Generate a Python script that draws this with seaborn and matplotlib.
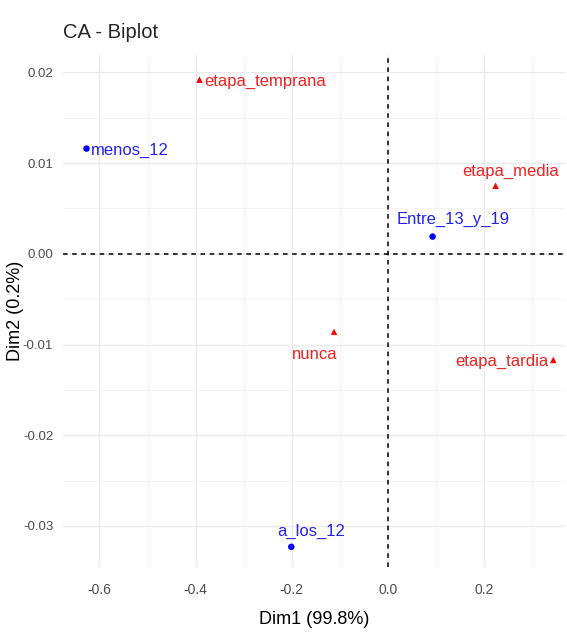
import matplotlib.pyplot as plt
import pandas as pd
import seaborn as sns
from matplotlib.ticker import MultipleLocator, FixedLocator

# CA coordinates
row_names = ["menos_12", "Entre_13_y_19", "a_los_12"]
row_dim1 = [-0.627, 0.093, -0.201]
row_dim2 = [0.0116, 0.0019, -0.0323]

col_names = ["etapa_temprana", "etapa_media", "nunca", "etapa_tardia"]
col_dim1 = [-0.392, 0.224, -0.112, 0.344]
col_dim2 = [0.0192, 0.0075, -0.0086, -0.0117]

x_ticks = [-0.6, -0.4, -0.2, 0.0, 0.2]
y_ticks = [-0.03, -0.02, -0.01, 0.00, 0.01, 0.02]

df = pd.DataFrame({
    "name": row_names + col_names,
    "dim1": row_dim1 + col_dim1,
    "dim2": row_dim2 + col_dim2,
    "kind": ["row"] * len(row_names) + ["col"] * len(col_names),
})

# label offsets in pixels (ggrepel style placement)
offsets = {
    "menos_12": (4, -2, "left", "center"),
    "Entre_13_y_19": (21, 10, "center", "bottom"),
    "a_los_12": (20, 8, "center", "bottom"),
    "etapa_temprana": (5, -2, "left", "center"),
    "etapa_media": (15, 7, "center", "bottom"),
    "nunca": (-19, -15, "center", "top"),
    "etapa_tardia": (-5, -1, "right", "center"),
}

sns.set_style("white")
plt.rcParams["font.family"] = ["Liberation Sans", "DejaVu Sans"]

fig = plt.figure(figsize=(5.67, 6.34), dpi=100)
ax = fig.add_axes([0.111, 0.106, 0.886, 0.807])

sns.scatterplot(data=df, x="dim1", y="dim2", hue="kind", style="kind",
                palette={"row": "#0000FF", "col": "#FF0000"},
                markers={"row": "o", "col": "^"}, s=22, linewidth=0,
                legend=False, ax=ax, zorder=3)

text_col = {"row": "#2222EE", "col": "#EE2222"}
for _, r in df.iterrows():
    dx, dy, ha, va = offsets[r["name"]]
    ax.annotate(r["name"], (r["dim1"], r["dim2"]), xytext=(dx, dy),
                textcoords="offset pixels", ha=ha, va=va,
                color=text_col[r["kind"]], fontsize=12)

ax.axhline(0, color="black", linestyle=(0, (3, 3)), linewidth=1.1, zorder=2)
ax.axvline(0, color="black", linestyle=(0, (3, 3)), linewidth=1.1, zorder=2)

ax.set_xlim(-0.676, 0.369)
ax.set_ylim(-0.0345, 0.0219)
ax.xaxis.set_major_locator(FixedLocator(x_ticks))
ax.yaxis.set_major_locator(FixedLocator(y_ticks))
ax.set_xticklabels([f"{v:.1f}" for v in x_ticks])
ax.set_yticklabels([f"{v:.2f}" for v in y_ticks])
ax.xaxis.set_minor_locator(MultipleLocator(0.1))
ax.yaxis.set_minor_locator(MultipleLocator(0.005))

ax.grid(which="major", color="#EBEBEB", linewidth=1.0)
ax.grid(which="minor", color="#F2F2F2", linewidth=0.6)
ax.set_axisbelow(True)
for s in ax.spines.values():
    s.set_visible(False)
ax.tick_params(which="major", length=4, width=1, color="#333333",
               labelcolor="#4D4D4D", labelsize=9.5, direction="out", pad=3)
ax.tick_params(axis="x", which="major", pad=8, labelsize=10)
ax.tick_params(which="minor", length=0)

ax.set_xlabel("Dim1 (99.8%)", fontsize=13, color="black")
ax.set_ylabel("Dim2 (0.2%)", fontsize=13, color="black")
ax.xaxis.set_label_coords(0.5, -0.087)
ax.yaxis.set_label_coords(-0.078, 0.5)
fig.text(0.111, 0.948, "CA - Biplot", fontsize=14.5, ha="left", va="center")

fig.savefig("out.png", dpi=100, facecolor="white")
